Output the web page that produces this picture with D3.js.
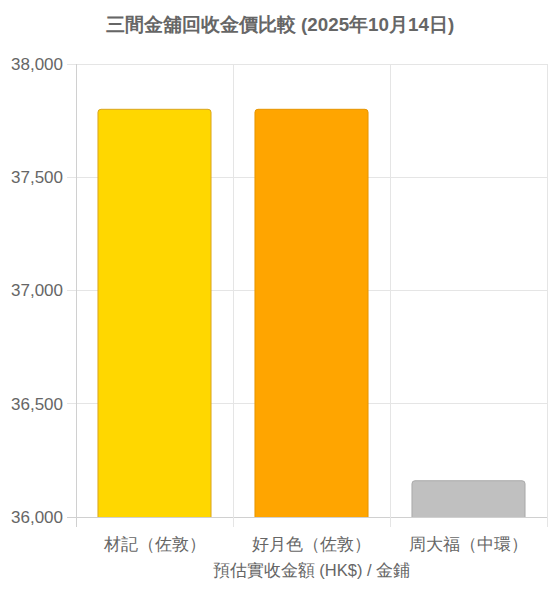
<!DOCTYPE html>
<html><head><meta charset="utf-8">
<script src="https://cdn.jsdelivr.net/npm/d3@7/dist/d3.min.js"></script>
<style>
body{margin:0;background:#fff;}
svg{display:block;font-family:"Liberation Sans",Arial,Helvetica,sans-serif;}
</style></head>
<body><svg id="c" width="556" height="594"></svg>
<script>
const categories = ["材記（佐敦）","好月色（佐敦）","周大福（中環）"];
const values = [37800, 37800, 36160];
const yTicks = [36000, 36500, 37000, 37500, 38000];
const fills = ["#FFD700","#FFA500","#C0C0C0"];
const strokes = ["#DAA520","#E69500","#A9A9A9"];
const title = "三間金舖回收金價比較 (2025年10月14日)";
const xTitle = "預估實收金額 (HK$) / 金鋪";

const svg = d3.select("#c");
const L=76, R=547, T=64, B=517;
const x = d3.scaleBand().domain(categories).range([L,R]).paddingInner(0).paddingOuter(0);
const y = d3.scaleLinear().domain([36000,38000]).range([B,T]);
const grid="#e5e5e5", txt="#666";

// horizontal grid
svg.append("g").selectAll("line").data(yTicks).join("line")
  .attr("x1",L-9).attr("x2",R).attr("y1",d=>y(d)).attr("y2",d=>y(d))
  .attr("stroke",d=>d===36000?"#d0d0d0":grid).attr("stroke-width",1).attr("shape-rendering","crispEdges");
// vertical grid (category boundaries)
const bounds = categories.map(c=>x(c)).concat([R]);
svg.append("g").selectAll("line").data(bounds).join("line")
  .attr("x1",d=>d).attr("x2",d=>d).attr("y1",T).attr("y2",B+10)
  .attr("stroke",(d,i)=>i===0?"#d0d0d0":grid).attr("stroke-width",1).attr("shape-rendering","crispEdges");

// y tick labels
svg.append("g").selectAll("text").data(yTicks).join("text")
  .attr("x",L-13).attr("y",d=>y(d)).attr("dy","0.35em").attr("text-anchor","end")
  .attr("font-size",17).attr("fill",txt).text(d=>d3.format(",")(d));

// bars
const bw = x.bandwidth()*0.72;
const r=3;
function barPath(x0,y0,w,h){
  return `M${x0},${y0+h}V${y0+r}Q${x0},${y0} ${x0+r},${y0}H${x0+w-r}Q${x0+w},${y0} ${x0+w},${y0+r}V${y0+h}`;
}
svg.append("g").selectAll("path").data(values).join("path")
  .attr("d",(d,i)=>{const cx=x(categories[i])+x.bandwidth()/2; return barPath(cx-bw/2,y(d),bw,y(36000)-y(d));})
  .attr("fill",(d,i)=>fills[i]).attr("stroke",(d,i)=>strokes[i]).attr("stroke-width",1);

// x labels
svg.append("g").selectAll("text").data(categories).join("text")
  .attr("x",d=>x(d)+x.bandwidth()/2).attr("y",544).attr("dy","0.35em").attr("text-anchor","middle")
  .attr("font-size",16.5).attr("fill",txt).text(d=>d);

svg.append("text").attr("x",(L+R)/2).attr("y",570).attr("dy","0.35em").attr("text-anchor","middle")
  .attr("font-size",16.5).attr("fill",txt).text(xTitle);

svg.append("text").attr("x",280).attr("y",24).attr("dy","0.35em").attr("text-anchor","middle")
  .attr("font-size",18.8).attr("font-weight","bold").attr("fill",txt).text(title);
</script></body></html>
